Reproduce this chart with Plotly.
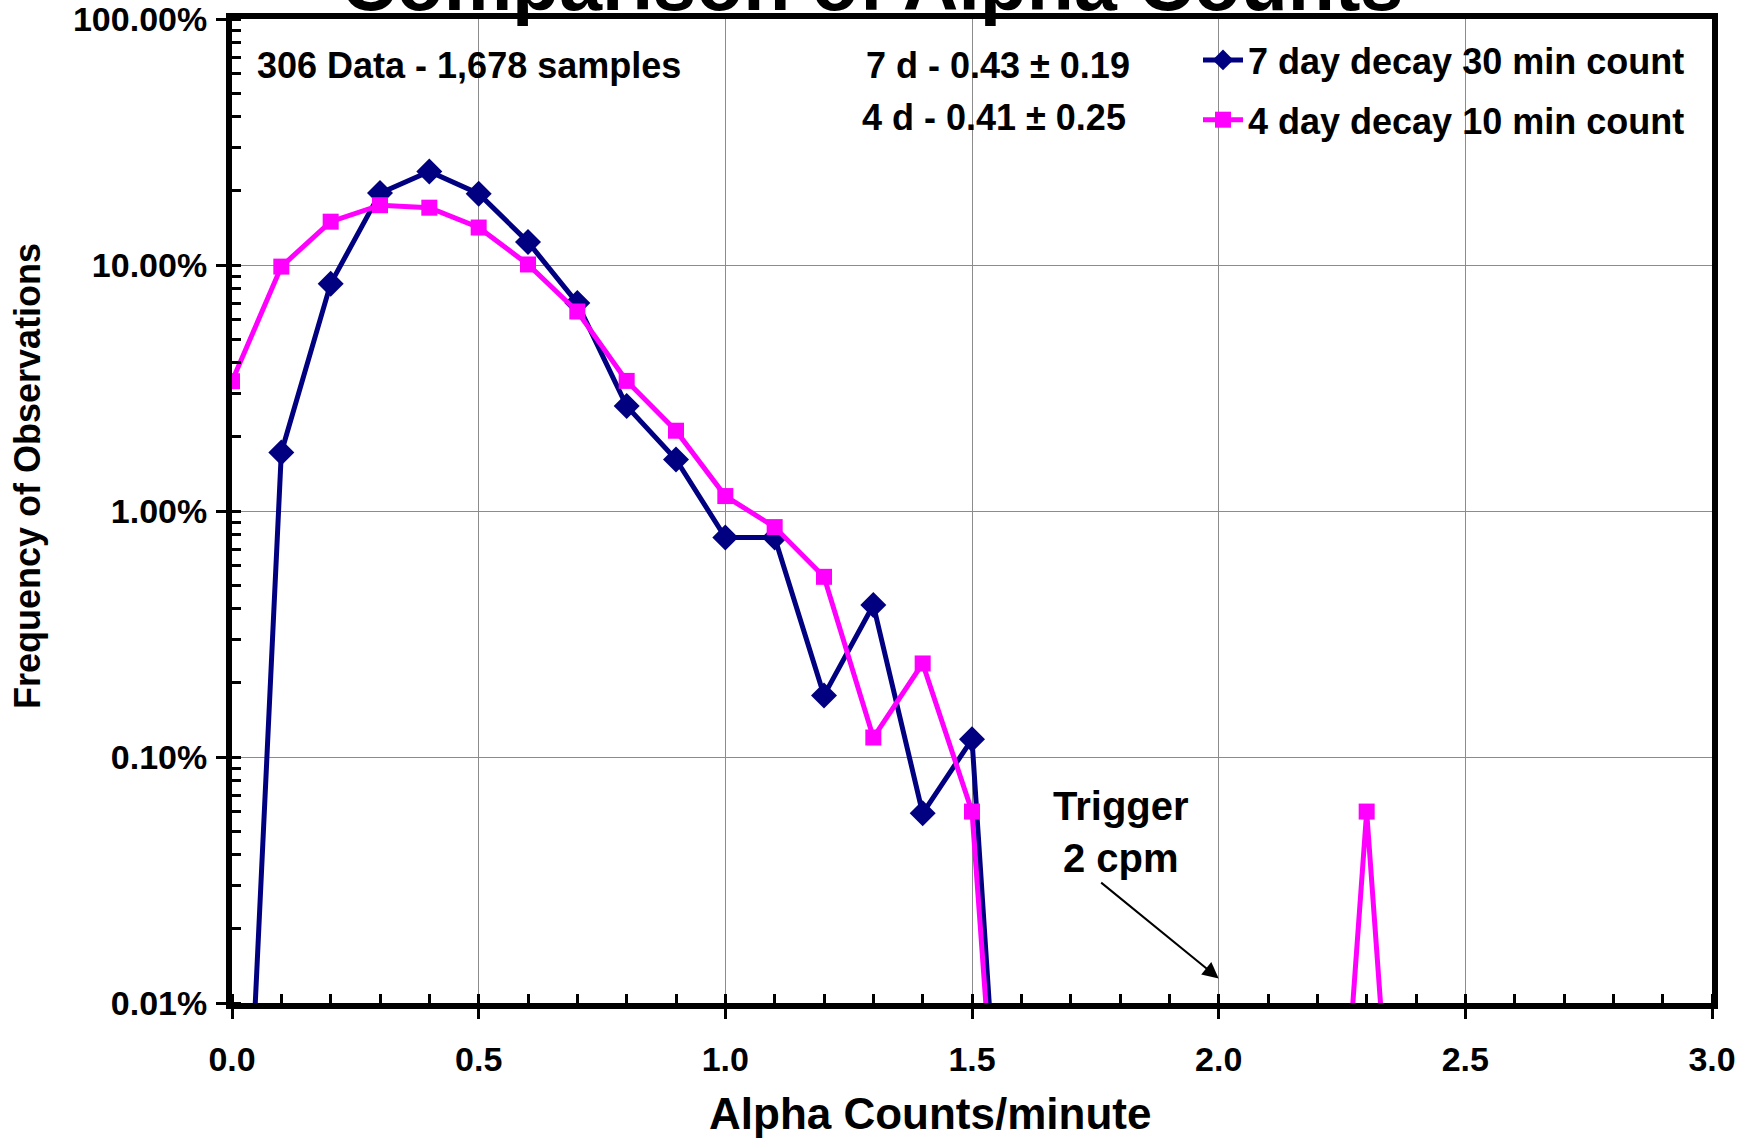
import plotly.graph_objects as go

# ---- data (values in percent; 0 = no observations in bin) ----
alpha_cpm = [0.0, 0.1, 0.2, 0.3, 0.4, 0.5, 0.6, 0.7, 0.8, 0.9,
             1.0, 1.1, 1.2, 1.3, 1.4, 1.5, 1.6, 1.7, 1.8, 1.9,
             2.0, 2.1, 2.2, 2.3, 2.4, 2.5, 2.6, 2.7, 2.8, 2.9, 3.0]

decay7_pct = [0, 1.73, 8.4, 19.6, 24.0, 19.5, 12.4, 7.0, 2.67, 1.62,
              0.78, 0.78, 0.178, 0.415, 0.059, 0.118, 0, 0, 0, 0,
              0, 0, 0, 0, 0, 0, 0, 0, 0, 0, 0]

decay4_pct = [3.37, 9.85, 15.0, 17.5, 17.1, 14.2, 10.05, 6.47, 3.38, 2.12,
              1.15, 0.86, 0.54, 0.12, 0.24, 0.06, 0, 0, 0, 0,
              0, 0, 0, 0.06, 0, 0, 0, 0, 0, 0, 0]

series_names = ["7 day decay 30 min count", "4 day decay 10 min count"]
stats_text = ["7 d - 0.43 \u00b1 0.19", "4 d - 0.41 \u00b1 0.25"]
sample_text = "306 Data - 1,678 samples"
title_text = "Comparison of Alpha Counts"
x_title = "Alpha Counts/minute"
y_title = "Frequency of Observations"
trigger_cpm = 2.0

# empty bins cannot sit on a log axis; drawn as a tiny floor value (like Excel)
ZERO_FLOOR = 1e-6


def to_frac(vals):
    return [v / 100.0 if v > 0 else ZERO_FLOOR for v in vals]


FONT = "Liberation Sans"
W, H = 1758, 1139
L, R, T, B = 232, 46, 19, 136
PW, PH = W - L - R, H - T - B


def px(X):
    return (X - L) / PW


def py(Y):
    return 1 - (Y - T) / PH


fig = go.Figure()
fig.add_trace(go.Scatter(
    x=alpha_cpm, y=to_frac(decay7_pct), name=series_names[0], mode="lines+markers",
    line=dict(color="#000080", width=5),
    marker=dict(symbol="diamond", size=20, color="#000080"),
    legendgroup="a",
))
fig.add_trace(go.Scatter(
    x=alpha_cpm, y=to_frac(decay4_pct), name=series_names[1], mode="lines+markers",
    line=dict(color="#FF00FF", width=5),
    marker=dict(symbol="square", size=16, color="#FF00FF"),
    legendgroup="b",
))

bold = dict(family=FONT, color="black", weight="bold")

# white boxes behind text (hide gridlines, below traces)
fig.add_shape(type="rect", xref="paper", yref="paper", layer="between",
              x0=px(237), x1=px(745), y0=py(98), y1=py(33),
              fillcolor="white", line=dict(width=0))
fig.add_shape(type="rect", xref="paper", yref="paper", layer="between",
              x0=px(850), x1=px(1705), y0=py(150), y1=py(33),
              fillcolor="white", line=dict(width=0))

ann = []
ann.append(dict(text=title_text, xref="paper", yref="paper", x=px(872), y=py(28),
                xanchor="center", yanchor="bottom", showarrow=False,
                font=dict(size=77, **bold)))
ann.append(dict(text=sample_text, xref="paper", yref="paper", x=px(255), y=py(66),
                xanchor="left", yanchor="middle", showarrow=False,
                font=dict(size=36, **bold)))
ann.append(dict(text=stats_text[0], xref="paper", yref="paper", x=px(998), y=py(66),
                xanchor="center", yanchor="middle", showarrow=False,
                font=dict(size=36, **bold)))
ann.append(dict(text=stats_text[1], xref="paper", yref="paper", x=px(994), y=py(117),
                xanchor="center", yanchor="middle", showarrow=False,
                font=dict(size=36, **bold)))
ann.append(dict(text="Trigger<br>2 cpm", xref="paper", yref="paper", x=px(1121), y=py(832),
                xanchor="center", yanchor="middle", showarrow=False,
                font=dict(size=40, **bold)))
# arrow pointing to trigger level on the x axis
ann.append(dict(text="", x=trigger_cpm, y=-3.9, xref="x", yref="y",
                ax=-119, ay=-97, showarrow=True, arrowhead=2, arrowsize=1.6,
                arrowwidth=2, arrowcolor="black", standoff=0))
ann.append(dict(text=x_title, xref="paper", yref="paper", x=px(930), y=py(1113),
                xanchor="center", yanchor="middle", showarrow=False,
                font=dict(size=44, **bold)))
ann.append(dict(text=y_title, xref="paper", yref="paper", x=px(28), y=py(476),
                xanchor="center", yanchor="middle", showarrow=False, textangle=-90,
                font=dict(size=36, **bold)))

fig.update_layout(
    width=W, height=H,
    margin=dict(l=L, r=R, t=T, b=B, pad=0, autoexpand=False),
    paper_bgcolor="white", plot_bgcolor="white",
    annotations=ann,
    showlegend=True,
    legend=dict(x=px(1198), y=py(30), xanchor="left", yanchor="top",
                bgcolor="rgba(0,0,0,0)", font=dict(size=36, **bold),
                tracegroupgap=10, itemwidth=40),
)

fig.update_xaxes(
    range=[0, 3], tick0=0, dtick=0.5, tickformat=".1f", automargin=False,
    showgrid=True, gridcolor="#8c8c8c", gridwidth=1, zeroline=False,
    showline=True, linecolor="black", linewidth=6, mirror=True,
    ticks="outside", ticklen=10, tickwidth=3, tickcolor="black",
    ticklabelstandoff=11,
    tickfont=dict(size=34, **bold),
    minor=dict(dtick=0.1, ticks="inside", ticklen=9, tickwidth=3, tickcolor="black", showgrid=False),
)
fig.update_yaxes(
    type="log", range=[-4, 0], dtick=1, tickformat=".2%", automargin=False,
    showgrid=True, gridcolor="#8c8c8c", gridwidth=1, zeroline=False,
    showline=True, linecolor="black", linewidth=6, mirror=True,
    ticks="outside", ticklen=10, tickwidth=3, tickcolor="black",
    ticklabelstandoff=2, ticklabeloverflow="allow",
    tickfont=dict(size=34, **bold),
    minor=dict(dtick="D1", ticks="inside", ticklen=9, tickwidth=3, tickcolor="black", showgrid=False),
)

fig.write_html("out.html")
